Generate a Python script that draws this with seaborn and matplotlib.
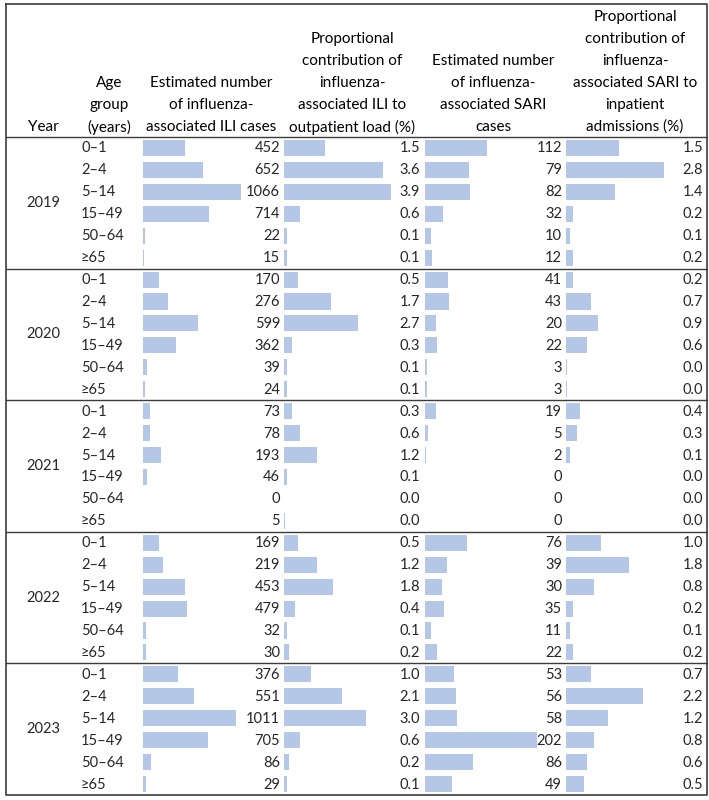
import numpy as np
import pandas as pd
import matplotlib
matplotlib.use("Agg")
import matplotlib.pyplot as plt
import seaborn as sns

# Table data
years = [2019, 2020, 2021, 2022, 2023]
age_groups = ["0–1", "2–4", "5–14", "15–49", "50–64", "≥65"]

ili_cases = [452, 652, 1066, 714, 22, 15,
             170, 276, 599, 362, 39, 24,
             73, 78, 193, 46, 0, 5,
             169, 219, 453, 479, 32, 30,
             376, 551, 1011, 705, 86, 29]
ili_pct = [1.5, 3.6, 3.9, 0.6, 0.1, 0.1,
           0.5, 1.7, 2.7, 0.3, 0.1, 0.1,
           0.3, 0.6, 1.2, 0.1, 0.0, 0.04,
           0.5, 1.2, 1.8, 0.4, 0.1, 0.2,
           1.0, 2.1, 3.0, 0.6, 0.2, 0.1]
sari_cases = [112, 79, 82, 32, 10, 12,
              41, 43, 20, 22, 3, 3,
              19, 5, 2, 0, 0, 0,
              76, 39, 30, 35, 11, 22,
              53, 56, 58, 202, 86, 49]
sari_pct = [1.5, 2.8, 1.4, 0.2, 0.1, 0.2,
            0.2, 0.7, 0.9, 0.6, 0.04, 0.04,
            0.4, 0.3, 0.1, 0.0, 0.0, 0.0,
            1.0, 1.8, 0.8, 0.2, 0.1, 0.2,
            0.7, 2.2, 1.2, 0.8, 0.6, 0.5]

headers = [
    ["Year"],
    ["Age", "group", "(years)"],
    ["Estimated number", "of influenza-", "associated ILI cases"],
    ["Proportional", "contribution of", "influenza-", "associated ILI to", "outpatient load (%)"],
    ["Estimated number", "of influenza-", "associated SARI", "cases"],
    ["Proportional", "contribution of", "influenza-", "associated SARI to", "inpatient", "admissions (%)"],
]

df = pd.DataFrame({
    "year": np.repeat(years, len(age_groups)),
    "age": age_groups * len(years),
    "ili_cases": ili_cases,
    "ili_pct": ili_pct,
    "sari_cases": sari_cases,
    "sari_pct": sari_pct,
})
df["row"] = np.arange(len(df))

sns.set_theme(style="white")
plt.rcParams["font.family"] = ["Lato", "DejaVu Sans"]

W, H = 709, 800
fig = plt.figure(figsize=(W / 100, H / 100), dpi=100)
fig.patch.set_facecolor("white")

# background axes in pixel units for the table frame and text
ax = fig.add_axes([0, 0, 1, 1])
ax.set_xlim(0, W)
ax.set_ylim(H, 0)
ax.axis("off")

left, right, top, bottom = 6, 707, 4, 795
head_bottom = 137
n_rows = len(df)
row_h = (bottom - head_bottom) / n_rows
fs = 10.5
fs_head = 11
line_col = "#3c3c3c"
bar_col = "#B4C7E7"

# outer frame and year separators
ax.plot([left, right, right, left, left], [top, top, bottom, bottom, top], color=line_col, lw=1.2)
for k in range(len(years)):
    y = head_bottom + k * len(age_groups) * row_h
    ax.plot([left, right], [y, y], color=line_col, lw=1.0)

# header text, bottom aligned, centred in each column
centers = [43, 109, 211, 352, 493, 635]
for cx, lines in zip(centers, headers):
    for j, txt in enumerate(reversed(lines)):
        ax.text(cx, 127 - j * 22, txt, ha="center", va="center", fontsize=fs_head, color="black")

# year labels and age labels
for k, yr in enumerate(years):
    yc = head_bottom + (k + 0.5) * len(age_groups) * row_h
    ax.text(43, yc, str(yr), ha="center", va="center", fontsize=fs)

for i, r in df.iterrows():
    yc = head_bottom + (i + 0.5) * row_h + 0.5
    ax.text(81, yc, r["age"], ha="left", va="center", fontsize=fs)
    ax.text(280, yc, f"{int(r['ili_cases'])}", ha="right", va="center", fontsize=fs)
    ax.text(420, yc, f"{r['ili_pct']:.1f}", ha="right", va="center", fontsize=fs)
    ax.text(562, yc, f"{int(r['sari_cases'])}", ha="right", va="center", fontsize=fs)
    ax.text(703, yc, f"{r['sari_pct']:.1f}", ha="right", va="center", fontsize=fs)

# in-cell data bars: (column, bar start px, axes width px, max value, px for max value)
bar_cols = [
    ("ili_cases", 143, 137, 1066, 98),
    ("ili_pct", 284, 136, 3.9, 107),
    ("sari_cases", 425, 137, 202, 112),
    ("sari_pct", 566, 138, 2.8, 98),
]
for col, x0, wpx, vmax, pxmax in bar_cols:
    bax = fig.add_axes([x0 / W, 1 - bottom / H, wpx / W, (bottom - head_bottom) / H])
    sns.barplot(data=df, x=col, y="row", orient="h", color=bar_col, saturation=1,
                width=0.73, errorbar=None, ax=bax, linewidth=0)
    bax.set_xlim(0, vmax * wpx / pxmax)
    bax.set_ylim(n_rows - 0.5, -0.5)
    bax.axis("off")
    bax.patch.set_alpha(0)
    bax.set_zorder(0)

ax.set_zorder(1)
ax.patch.set_alpha(0)

fig.savefig("out.png", dpi=100, facecolor="white")
